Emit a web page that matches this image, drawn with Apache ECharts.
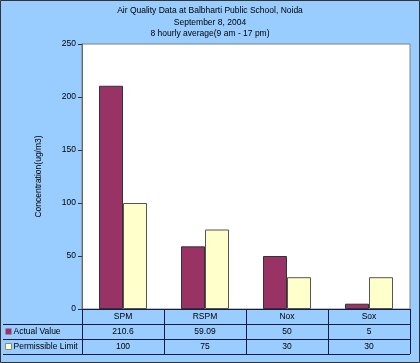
<!DOCTYPE html>
<html><head><meta charset="utf-8">
<script src="https://cdn.jsdelivr.net/npm/echarts@6/dist/echarts.min.js"></script>
<style>html,body{margin:0;padding:0;background:#99CCFF}#c{width:420px;height:363px}</style>
</head><body><div id="c"></div>
<script>
const categories = ['SPM', 'RSPM', 'Nox', 'Sox'];
const actualValue = [210.6, 59.09, 50, 5];
const permissibleLimit = [100, 75, 30, 30];
const seriesNames = ['Actual Value', 'Permissible Limit'];
const titleLines = ['Air Quality Data at Balbharti Public School, Noida', 'September 8, 2004', '8 hourly average(9 am - 17 pm)'];
const yAxisName = 'Concentration(ug/m3)';

const FONT = 'Liberation Sans';
const FS = 8.5;
const W = 420, H = 363;
const G = {left: 82, top: 44, right: 10, bottom: 54};
const ROW = 15;

const chart = echarts.init(document.getElementById('c'), null, {renderer: 'canvas'});

function tableGraphics() {
  const x0 = G.left, x1 = W - G.right, yAx = H - G.bottom;
  const n = categories.length, cw = (x1 - x0) / n;
  const els = [];
  const ln = (a, b, c, d) => els.push({type: 'line', silent: true, shape: {x1: a, y1: b, x2: c, y2: d}, style: {stroke: '#1a1a40', lineWidth: 1}});
  for (let r = 1; r <= 3; r++) ln(3, yAx + r * ROW + 0.5, x1, yAx + r * ROW + 0.5);
  for (let i = 0; i <= n; i++) ln(Math.round(x0 + i * cw) + 0.5, yAx, Math.round(x0 + i * cw) + 0.5, yAx + 3 * ROW);
  els.push({type: 'rect', silent: true, shape: {x: 0.5, y: 0.5, width: W - 1, height: H - 1}, style: {fill: 'none', stroke: '#333', lineWidth: 1}});
  return els;
}

chart.setOption({
  backgroundColor: '#99CCFF',
  animation: false,
  textStyle: {fontFamily: FONT},
  title: {
    text: titleLines.join('\n'), left: 'center', top: 0,
    textStyle: {fontSize: FS, fontWeight: 'normal', color: '#000', lineHeight: 11.5, fontFamily: FONT}
  },
  legend: {
    orient: 'vertical', left: 5, top: H - G.bottom + ROW, itemGap: 0,
    itemWidth: 6, itemHeight: 6, icon: 'rect', selectedMode: false,
    textStyle: {fontSize: FS, color: '#000', lineHeight: ROW, padding: [0, 0, 0, -3], fontFamily: FONT},
    padding: 0,
    data: [
      {name: seriesNames[0], itemStyle: {borderWidth: 0}},
      {name: seriesNames[1], itemStyle: {borderColor: '#888', borderWidth: 1}}
    ]
  },
  grid: {left: G.left, top: G.top, right: G.right, bottom: G.bottom, show: true, backgroundColor: '#fff', borderColor: '#808080', borderWidth: 1},
  xAxis: {
    type: 'category', data: categories,
    axisLine: {lineStyle: {color: '#1a1a40'}}, axisTick: {show: false},
    axisLabel: {
      interval: 0, margin: 0, fontSize: FS, color: '#000', lineHeight: ROW,
      formatter: (v, i) => [v, String(actualValue[i]), String(permissibleLimit[i])].join('\n')
    }
  },
  yAxis: {
    type: 'value', min: 0, max: 250, interval: 50,
    name: yAxisName, nameLocation: 'middle', nameGap: 39,
    nameTextStyle: {fontSize: FS, color: '#000', fontFamily: FONT},
    axisLine: {show: true, lineStyle: {color: '#666'}},
    axisTick: {show: true, length: 4, lineStyle: {color: '#333'}},
    axisLabel: {fontSize: FS, color: '#000', margin: 6},
    splitLine: {show: false}
  },
  series: [
    {name: seriesNames[0], type: 'bar', data: actualValue, barWidth: 24, barGap: '0%',
     itemStyle: {color: '#993366', borderColor: '#333', borderWidth: 1}},
    {name: seriesNames[1], type: 'bar', data: permissibleLimit, barWidth: 24, barGap: '0%',
     itemStyle: {color: '#FFFFCC', borderColor: '#555', borderWidth: 1}}
  ],
  graphic: tableGraphics()
});
</script></body></html>
